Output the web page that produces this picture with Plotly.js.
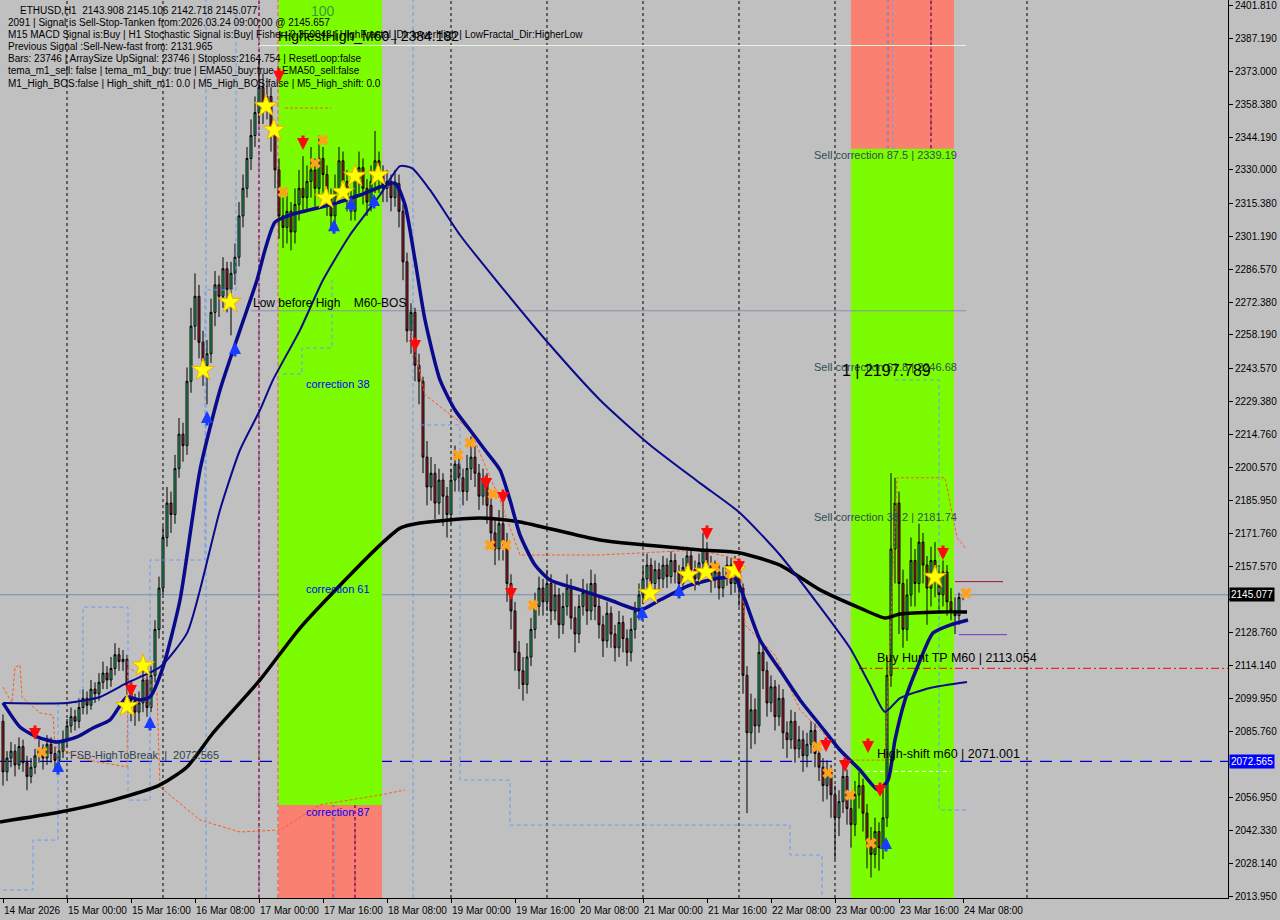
<!DOCTYPE html>
<html><head><meta charset="utf-8">
<script src="https://cdn.plot.ly/plotly-3.0.1.min.js"></script>
<style>html,body{margin:0;padding:0;background:#c0c0c0;overflow:hidden}#chart{width:1280px;height:920px}</style>
</head><body><div id="chart"></div>
<script>
// ---------------- DATA ----------------
const xTickBars = [0,16,32,48,64,80,96,112,128,144,160,176,192,208,224,240];
const xTickLabels = ["14 Mar 2026","15 Mar 00:00","15 Mar 16:00","16 Mar 08:00","17 Mar 00:00","17 Mar 16:00","18 Mar 08:00","19 Mar 00:00","19 Mar 16:00","20 Mar 08:00","21 Mar 00:00","21 Mar 16:00","22 Mar 08:00","23 Mar 00:00","23 Mar 16:00","24 Mar 08:00"];
const yTickVals = [2401.810,2387.190,2373.000,2358.380,2344.190,2330.000,2315.380,2301.190,2286.570,2272.380,2258.190,2243.570,2229.380,2214.760,2200.570,2185.950,2171.760,2157.570,2142.950,2128.760,2114.140,2099.950,2085.760,2071.140,2056.950,2042.330,2028.140,2013.950];
const yTickHidden = [2142.950, 2071.140];
const daySeparatorBars = [16,40,64,88,112,136,160,184,208,232,256];

const openFirst = 2090;
const close = [
2068,2074,2077,2071,2079,2072,2066,2070,2075,2078,
2074,2080,2076,2073,2077,2082,2088,2092,2090,2096,
2100,2097,2104,2102,2107,2111,2108,2113,2119,2116,
2117,2106,2099,2094,2098,2108,2096,2110,2130,2148,
2170,2185,2180,2200,2215,2210,2238,2262,2275,2255,
2245,2250,2268,2280,2275,2287,2278,2285,2292,2310,
2322,2335,2345,2355,2366,2358,2362,2345,2330,2310,
2305,2312,2303,2315,2322,2318,2325,2330,2322,2335,
2328,2318,2310,2322,2334,2325,2318,2312,2326,2331,
2322,2316,2325,2334,2328,2322,2325,2318,2324,2312,
2290,2260,2268,2245,2238,2205,2192,2198,2185,2195,
2188,2180,2195,2202,2196,2190,2200,2205,2198,2188,
2195,2184,2172,2165,2176,2168,2150,2138,2120,2112,
2106,2118,2130,2140,2148,2142,2150,2138,2145,2132,
2140,2148,2135,2128,2140,2146,2138,2150,2140,2132,
2125,2137,2128,2122,2133,2126,2120,2130,2138,2145,
2152,2158,2150,2156,2152,2158,2153,2160,2155,2150,
2157,2162,2156,2152,2159,2165,2158,2152,2155,2148,
2153,2158,2150,2157,2148,2110,2085,2095,2088,2120,
2112,2098,2105,2092,2100,2085,2082,2090,2078,2082,
2075,2080,2086,2076,2070,2062,2068,2058,2048,2055,
2066,2052,2045,2058,2062,2050,2038,2032,2042,2035,
2048,2110,2165,2185,2150,2130,2145,2160,2150,2168,
2158,2148,2160,2152,2145,2155,2142,2138,2136,2143.908,
2145.077];
const high = [
2093,2077,2081,2080,2083,2082,2075,2074,2078,2082,
2080,2084,2083,2079,2081,2086,2091,2096,2095,2100,
2104,2103,2108,2107,2111,2116,2114,2118,2124,2122,
2121,2119,2108,2102,2103,2112,2110,2114,2134,2153,
2175,2192,2190,2206,2222,2220,2244,2270,2285,2280,
2260,2256,2274,2286,2284,2292,2290,2290,2298,2316,
2328,2340,2352,2362,2378,2372,2370,2366,2350,2335,
2318,2320,2316,2322,2330,2336,2332,2340,2335,2345,
2340,2332,2322,2328,2340,2338,2330,2322,2332,2338,
2335,2326,2332,2347,2338,2332,2330,2328,2330,2328,
2315,2294,2272,2270,2250,2240,2212,2205,2202,2200,
2198,2192,2200,2210,2206,2200,2206,2214,2210,2202,
2200,2198,2188,2178,2182,2185,2172,2154,2142,2125,
2118,2124,2135,2146,2153,2152,2156,2154,2150,2148,
2146,2154,2152,2140,2145,2152,2150,2156,2154,2144,
2136,2142,2140,2132,2138,2136,2130,2135,2142,2150,
2157,2163,2161,2160,2159,2162,2161,2164,2163,2158,
2161,2166,2165,2160,2163,2172,2168,2162,2160,2158,
2157,2162,2161,2162,2160,2150,2114,2102,2100,2126,
2124,2116,2110,2108,2106,2104,2090,2095,2094,2088,
2086,2085,2090,2089,2080,2074,2073,2071,2062,2060,
2071,2069,2056,2064,2068,2065,2054,2044,2048,2046,
2060,2118,2198,2196,2190,2156,2152,2170,2165,2176,
2172,2162,2166,2168,2158,2160,2158,2148,2144,2146,
2145.106];
const low = [
2062,2064,2070,2066,2069,2068,2060,2063,2067,2072,
2069,2071,2072,2068,2070,2074,2079,2085,2086,2087,
2093,2093,2095,2098,2099,2104,2104,2105,2110,2112,
2112,2096,2090,2088,2090,2094,2092,2094,2107,2126,
2145,2166,2172,2176,2196,2203,2206,2233,2256,2248,
2236,2228,2246,2262,2266,2270,2268,2258,2280,2288,
2305,2318,2330,2340,2350,2350,2352,2338,2322,2300,
2296,2298,2295,2298,2308,2312,2312,2318,2314,2318,
2320,2310,2305,2306,2318,2318,2312,2308,2308,2320,
2315,2310,2312,2320,2320,2316,2316,2312,2314,2305,
2282,2255,2250,2238,2228,2198,2184,2186,2178,2180,
2175,2170,2176,2190,2190,2184,2186,2195,2192,2182,
2184,2176,2165,2158,2160,2160,2142,2130,2112,2104,
2099,2102,2114,2126,2136,2136,2138,2132,2134,2126,
2128,2136,2130,2120,2124,2136,2132,2134,2134,2126,
2118,2122,2122,2116,2118,2120,2114,2116,2126,2134,
2141,2148,2145,2146,2147,2148,2148,2150,2150,2145,
2147,2153,2151,2147,2149,2155,2153,2146,2148,2143,
2144,2149,2145,2146,2140,2102,2050,2078,2080,2085,
2104,2092,2094,2086,2088,2078,2074,2078,2072,2074,
2068,2070,2076,2070,2064,2055,2056,2048,2030,2040,
2050,2045,2035,2040,2052,2042,2026,2022,2026,2025,
2030,2044,2105,2150,2128,2122,2125,2140,2140,2146,
2150,2132,2140,2144,2138,2140,2136,2134,2128,2132,
2142.718];

// moving averages
const maSlowBars = [-0.75,14.25,27.5,39.25,46,52.5,64.25,74.25,86.75,94.25,99.25,104.25,119.25,129.25,149.25,174.25,184.25,194.25,204.25,214.25,220.5,224.25,234.25,241];
const maSlowVals = [2046.2,2050.5,2055.7,2062.3,2070.1,2084.9,2108.0,2130.6,2153.7,2166.7,2174.1,2176.3,2178.5,2176.8,2168.9,2164.6,2163.3,2158.0,2147.2,2139.3,2135.0,2136.7,2137.6,2137.6];
const emaFastBars = [0,4.25,8.5,13.5,18.5,22.5,26.75,31,34.25,36.75,40,44.25,49.25,54.25,59.25,63.5,65.5,68,71.75,81.75,89.25,94.25,98,100.5,103,105.5,109.25,113,116.75,120.5,124.25,126.75,129.25,133,136.75,144.25,151.75,159.25,164.25,171.75,179.25,183,185.5,189.25,194.25,199.25,204.25,209.25,214.25,218.75,221.25,223,225.5,228.5,232.5,236.75,241.25];
const emaFastVals = [2098.0,2087.5,2083.2,2081.0,2083.2,2087.1,2090.6,2100.6,2099.3,2100.6,2113.6,2142.8,2199.4,2234.2,2260.3,2282.1,2295.2,2307.3,2310.4,2314.8,2319.1,2322.6,2324.3,2314.8,2290.8,2264.7,2238.6,2225.5,2216.8,2208.1,2199.4,2186.3,2171.1,2158.0,2151.5,2147.2,2142.8,2138.4,2142.8,2149.3,2152.4,2152.4,2142.8,2125.4,2112.3,2099.3,2088.4,2077.5,2068.8,2060.1,2064.4,2081.9,2099.3,2113.2,2128.4,2131.9,2134.1];
const emaMidBars = [0,16,24.25,31,39.25,46,49.25,54.25,59.25,64.25,67.5,74.25,80,86.75,94.25,99.25,102.25,106.75,114.25,124.25,136.75,149.25,161.75,174.25,184.25,194.25,204.25,211.75,216.75,220.5,224.25,231.75,241];
const emaMidVals = [2098.0,2098.0,2100.6,2106.7,2113.6,2128.4,2147.2,2182.0,2208.1,2225.5,2238.6,2260.3,2282.1,2301.7,2319.1,2331.7,2330.8,2321.3,2301.7,2279.9,2253.8,2229.9,2210.3,2193.7,2180.7,2162.4,2139.8,2121.9,2105.8,2094.1,2100.1,2104.5,2107.1];

// channel step lines (null = gap)
const blueStepBars = [0,7.5,7.5,13.75,13.75,19.25,19.25,20,20,31.25,31.25,36.75,36.75,50.5,50.5,58.25,58.25,null,
  70,74.75,74.75,82.25,82.25,null,
  104.25,114.25,114.25,126.75,126.75,196.75,196.75,204.75,204.75,null,
  223,234,234,240.75];
const blueStepVals = [2016.6,2016.6,2038.3,2038.3,2098.0,2098.0,2103.6,2103.6,2139.7,2139.7,2055.7,2055.7,2160.2,2160.2,2277.8,2277.8,2399.6,null,
  2241.2,2241.2,2252.5,2252.5,2282.1,null,
  2219.0,2219.0,2064.4,2064.4,2044.8,2044.8,2031.8,2031.8,2014.4,null,
  2238.6,2238.6,2051.4,2051.4];
const orangeStepBars = [0,2.25,3,4.25,4.75,9.25,12.5,13,21,31,31.25,36,38.5,39.25,49.25,59.25,69.25,79.25,94.25,100.5,null,
  70.5,82,null,
  101.75,105.5,116.75,124.25,129.25,149.25,174.25,184.25,185.5,193,199.25,211.75,220.5,221.75,223.5,235.5,238.5,240.75];
const orangeStepVals = [2104.9,2098.0,2113.6,2114.5,2100.6,2093.6,2092.7,2078.9,2073.2,2070.1,2113.6,2108.0,2102.3,2061.4,2047.0,2041.8,2042.7,2053.6,2057.9,2060.1,null,
  2357.0,2357.0,null,
  2260.3,2232.1,2216.8,2186.3,2162.4,2162.4,2164.6,2160.2,2131.9,2118.9,2094.9,2073.1,2073.1,2125.4,2196.0,2196.0,2170.0,2165.0];

// signals
const sellArrowBars = [8,32,69,75,103,120.75,125,127,176,184,205.75,210.5,216.25,219.25,235];
const sellArrowVals = [2081.9,2100.6,2368.0,2338.7,2250.8,2190.7,2184.6,2142.8,2168.9,2154.6,2076.6,2067.9,2076.2,2057.0,2160.2];
const buyArrowBars = [13.75,36.75,51,58,82.75,87,92.75,159.75,169,220.75];
const buyArrowVals = [2073.2,2092.3,2225.1,2255.1,2308.6,2318.2,2319.5,2140.2,2149.8,2039.6];
const starBars = [31,35,50,56.75,65.75,67.75,80.75,85,88,93.75,161.75,171.25,175.75,183,233];
const starVals = [2096.6,2114.2,2242.9,2272.5,2357.8,2347.4,2317.8,2320.4,2327.4,2327.8,2145.8,2153.7,2155.0,2155.8,2152.8];
const crossBars = [9.75,70,78,80,113.75,116.75,122.5,121.75,125.75,132.5,178,181.75,203.5,206.25,211.75,217,240.75];
const crossVals = [2076.6,2320.4,2333.0,2343.0,2205.9,2211.2,2189.0,2166.7,2166.7,2140.6,2157.1,2154.5,2079.0,2067.5,2057.9,2037.0,2145.8];

// levels
const currentPrice = 2145.077;
const fsbHighToBreak = 2072.565;
const buyHuntTP = 2113.054;
const highShift = 2071.001;
const highestHigh = 2384.182;
const bosLevel = 2268.7;
const sellCorrLevels = [2339.19, 2246.68, 2181.74];
const sellCorrNames = ["87.5", "61.8", "38.2"];
const band1 = {from: 68.9, to: 94.75, split: 2053.6};
const band2 = {from: 212, to: 237.75, split: 2339.19};

const infoLines = [
 "2091 | Signal is Sell-Stop-Tanken from:2026.03.24 09:00:00 @ 2145.657",
 "M15 MACD Signal is:Buy | H1 Stochastic Signal is:Buy| Fisher:-0.350043 | HighFractal_Dir:lowerHigh | LowFractal_Dir:HigherLow",
 "Previous Signal :Sell-New-fast from: 2131.965",
 "Bars: 23746 | ArraySize UpSignal: 23746 | Stoploss:2164.754 | ResetLoop:false",
 "tema_m1_sell: false | tema_m1_buy: true | EMA50_buy:true | EMA50_sell:false",
 "M1_High_BOS:false | High_shift_m1: 0.0 | M5_High_BOS:false | M5_High_shift: 0.0"
];

// ---------------- BUILD ----------------
const N = close.length;
const bars = close.map((_, i) => i);
const open = [openFirst].concat(close.slice(0, N - 1));
const hi = high.map((h, i) => Math.max(h, open[i], close[i]));
const lo = low.map((l, i) => Math.min(l, open[i], close[i]));

const FONT = "Liberation Sans, Arial, sans-serif";
const W = 1228, H = 898;
const px = v => v / W, py = v => 1 - v / H;

const traces = [];
traces.push({type:'scatter', x: orangeStepBars, y: orangeStepVals, mode:'lines', connectgaps:false, line:{color:'#ff5a1e', width:1, dash:'3px,2px'}, hoverinfo:'skip'});
traces.push({type:'scatter', x: blueStepBars, y: blueStepVals, mode:'lines', connectgaps:false, line:{color:'#6a9cf0', width:1, dash:'4px,3px'}, hoverinfo:'skip'});
traces.push({type:'candlestick', x: bars, open: open, high: hi, low: lo, close: close,
  increasing:{line:{color:'#000000', width:1}, fillcolor:'#36c078'},
  decreasing:{line:{color:'#000000', width:1}, fillcolor:'#b3283a'},
  whiskerwidth:0, hoverinfo:'skip'});
traces.push({type:'scatter', x: maSlowBars, y: maSlowVals, mode:'lines', line:{color:'#000000', width:3.5, shape:'spline', smoothing:0.6}, hoverinfo:'skip'});
traces.push({type:'scatter', x: emaMidBars, y: emaMidVals, mode:'lines', line:{color:'#0a0a8c', width:2, shape:'spline', smoothing:0.6}, hoverinfo:'skip'});
traces.push({type:'scatter', x: emaFastBars, y: emaFastVals, mode:'lines', line:{color:'#0a0a8c', width:3.5, shape:'spline', smoothing:0.6}, hoverinfo:'skip'});
traces.push({type:'scatter', x: crossBars, y: crossVals, mode:'markers', marker:{symbol:'x', size:10, color:'#ffa21a', line:{width:0}}, hoverinfo:'skip'});
traces.push({type:'scatter', x: starBars, y: starVals, mode:'markers', marker:{symbol:'star', size:17, color:'#ffff00', line:{color:'#f0b000', width:1}}, hoverinfo:'skip'});

const shapes = [];
shapes.push({type:'rect', layer:'below', xref:'x', yref:'paper', x0:band1.from, x1:band1.to, y0:0, y1:1, fillcolor:'#fa8072', line:{width:0}});
shapes.push({type:'rect', layer:'below', xref:'x', yref:'y', x0:band1.from, x1:band1.to, y0:band1.split, y1:2404, fillcolor:'#7cfc00', line:{width:0}});
shapes.push({type:'rect', layer:'below', xref:'x', yref:'paper', x0:band2.from, x1:band2.to, y0:0, y1:1, fillcolor:'#fa8072', line:{width:0}});
shapes.push({type:'rect', layer:'below', xref:'x', yref:'y', x0:band2.from, x1:band2.to, y0:2013, y1:band2.split, fillcolor:'#7cfc00', line:{width:0}});
daySeparatorBars.forEach(b => shapes.push({type:'line', layer:'below', xref:'x', yref:'paper', x0:b, x1:b, y0:0, y1:1, line:{color:'#000000', width:1, dash:'3px,3px'}}));
const vlines = [[64,'#d0208c'],[88,'#d0208c'],[232,'#d0208c'],[68.75,'#ff4a1a'],[82.5,'#ff2a2a'],[221.25,'#ff4a1a'],[50.75,'#6a9cf0'],[82.9,'#6a9cf0'],[102.5,'#6a9cf0'],[221,'#6a9cf0'],[222.5,'#6a9cf0']];
vlines.forEach(v => shapes.push({type:'line', layer:'below', xref:'x', yref:'paper', x0:v[0], x1:v[0], y0:0, y1:1, line:{color:v[1], width:1, dash:'4px,3px'}}));
shapes.push({type:'line', layer:'below', xref:'paper', yref:'y', x0:0, x1:1, y0:currentPrice, y1:currentPrice, line:{color:'#7890a8', width:1}});
shapes.push({type:'line', layer:'below', xref:'paper', yref:'y', x0:0, x1:1, y0:fsbHighToBreak, y1:fsbHighToBreak, line:{color:'#0000c8', width:1.3, dash:'12px,8px'}});
shapes.push({type:'line', layer:'below', xref:'x', yref:'y', x0:214, x1:306.5, y0:buyHuntTP, y1:buyHuntTP, line:{color:'#ff0000', width:1, dash:'8px,3px,2px,3px'}});
shapes.push({type:'line', layer:'below', xref:'x', yref:'y', x0:64, x1:240.75, y0:highestHigh, y1:highestHigh, line:{color:'#e6f5dc', width:1}});
shapes.push({type:'line', layer:'below', xref:'x', yref:'y', x0:62, x1:240.75, y0:bosLevel, y1:bosLevel, line:{color:'#8a90a8', width:1}});
shapes.push({type:'line', layer:'below', xref:'x', yref:'y', x0:214, x1:237, y0:2068.2, y1:2068.2, line:{color:'#ffffff', width:1, dash:'4px,3px'}});
shapes.push({type:'line', layer:'above', xref:'x', yref:'y', x0:238, x1:250, y0:2150.8, y1:2150.8, line:{color:'#a01030', width:1}});
shapes.push({type:'line', layer:'above', xref:'x', yref:'y', x0:239, x1:251, y0:2127.7, y1:2127.7, line:{color:'#7030c0', width:1}});

const ann = [];
ann.push({xref:'paper', yref:'paper', x:px(18), y:py(10), xanchor:'left', yanchor:'middle', showarrow:false, text:'ETHUSD,H1\u00a0\u00a02143.908 2145.106 2142.718 2145.077', font:{family:FONT, size:10, color:'#000'}});
infoLines.forEach((t, k) => ann.push({xref:'paper', yref:'paper', x:px(6), y:py(22 + 12.2 * k), xanchor:'left', yanchor:'middle', showarrow:false, text:t, font:{family:FONT, size:10, color:'#000'}}));
ann.push({xref:'x', yref:'y', x:76.5, y:2399, xanchor:'left', yanchor:'middle', showarrow:false, text:'100', font:{family:FONT, size:14, color:'#3a9a3a'}});
ann.push({xref:'x', yref:'y', x:68.2, y:highestHigh + 4, xanchor:'left', yanchor:'middle', showarrow:false, text:'HighestHigh_M60 | ' + highestHigh.toFixed(3), font:{family:FONT, size:14, color:'#000'}});
ann.push({xref:'x', yref:'y', x:62, y:bosLevel + 3.5, xanchor:'left', yanchor:'middle', showarrow:false, text:'Low before High\u00a0\u00a0\u00a0\u00a0M60-BOS', font:{family:FONT, size:12, color:'#000'}});
ann.push({xref:'x', yref:'y', x:75.2, y:2236.8, xanchor:'left', yanchor:'middle', showarrow:false, text:'correction 38', font:{family:FONT, size:11, color:'#0000ff'}});
ann.push({xref:'x', yref:'y', x:75.2, y:2147.6, xanchor:'left', yanchor:'middle', showarrow:false, text:'correction 61', font:{family:FONT, size:11, color:'#0000ff'}});
ann.push({xref:'x', yref:'y', x:75.2, y:2050.5, xanchor:'left', yanchor:'middle', showarrow:false, text:'correction 87', font:{family:FONT, size:11, color:'#0000ff'}});
sellCorrLevels.forEach((lv, k) => ann.push({xref:'x', yref:'y', x:202.2, y:lv - 2.6, xanchor:'left', yanchor:'middle', showarrow:false, text:'Sell correction ' + sellCorrNames[k] + ' | ' + lv.toFixed(2), font:{family:FONT, size:11, color:'#2f4f4f'}}));
ann.push({xref:'x', yref:'y', x:209.3, y:2242.5, xanchor:'left', yanchor:'middle', showarrow:false, text:'1 | 2197.789', font:{family:FONT, size:16, color:'#000'}});
ann.push({xref:'x', yref:'y', x:218, y:buyHuntTP + 4.4, xanchor:'left', yanchor:'middle', showarrow:false, text:'Buy Hunt TP M60 | ' + buyHuntTP.toFixed(3), font:{family:FONT, size:12.5, color:'#000'}});
ann.push({xref:'x', yref:'y', x:218, y:highShift + 4.8, xanchor:'left', yanchor:'middle', showarrow:false, text:'High-shift m60 | ' + highShift.toFixed(3), font:{family:FONT, size:12.5, color:'#000'}});
ann.push({xref:'x', yref:'y', x:16.3, y:fsbHighToBreak + 2.7, xanchor:'left', yanchor:'middle', showarrow:false, text:'FSB-HighToBreak\u00a0\u00a0|\u00a0\u00a0' + fsbHighToBreak.toFixed(3), font:{family:FONT, size:11, color:'#2f3f4f'}});
sellArrowBars.forEach((b, k) => ann.push({xref:'x', yref:'y', x:b, y:sellArrowVals[k], ax:0, ay:-16, showarrow:true, arrowhead:2, arrowsize:0.8, arrowwidth:3, arrowcolor:'#ff0a0a', text:''}));
buyArrowBars.forEach((b, k) => ann.push({xref:'x', yref:'y', x:b, y:buyArrowVals[k], ax:0, ay:16, showarrow:true, arrowhead:2, arrowsize:0.8, arrowwidth:3, arrowcolor:'#1a3cff', text:''}));
xTickBars.forEach((b, k) => ann.push({xref:'x', yref:'paper', x:b, y:0, xanchor:'left', yanchor:'top', xshift:-1, yshift:-5, showarrow:false, text:xTickLabels[k], font:{family:FONT, size:10, color:'#000'}}));
ann.push({xref:'paper', yref:'y', x:1, y:currentPrice, xanchor:'left', yanchor:'middle', xshift:1, showarrow:false, text:currentPrice.toFixed(3), bgcolor:'#000000', borderpad:1, font:{family:FONT, size:10, color:'#ffffff'}});
ann.push({xref:'paper', yref:'y', x:1, y:fsbHighToBreak, xanchor:'left', yanchor:'middle', xshift:1, showarrow:false, text:fsbHighToBreak.toFixed(3), bgcolor:'#0000ff', borderpad:1, font:{family:FONT, size:10, color:'#ffffff'}});

const layout = {
  width:1280, height:920,
  margin:{l:0, r:52, t:0, b:22},
  paper_bgcolor:'#c0c0c0', plot_bgcolor:'#c0c0c0',
  showlegend:false, dragmode:false, hovermode:false,
  xaxis:{range:[-0.75, 306.25], showgrid:false, zeroline:false, tickvals:xTickBars, ticktext:xTickBars.map(() => ''), ticks:'outside', ticklen:4, tickcolor:'#000', showline:true, linecolor:'#000', linewidth:1, rangeslider:{visible:false}, fixedrange:true},
  yaxis:{range:[2013.08, 2403.99], side:'right', showgrid:false, zeroline:false, tickvals:yTickVals, ticktext:yTickVals.map(v => yTickHidden.includes(v) ? '' : v.toFixed(3)), ticks:'outside', ticklen:4, tickcolor:'#000', showline:true, linecolor:'#000', linewidth:1, ticklabeloverflow:'allow', tickfont:{family:FONT, size:10, color:'#000'}, fixedrange:true},
  shapes:shapes, annotations:ann
};
Plotly.newPlot('chart', traces, layout, {staticPlot:true, displayModeBar:false});
</script></body></html>
